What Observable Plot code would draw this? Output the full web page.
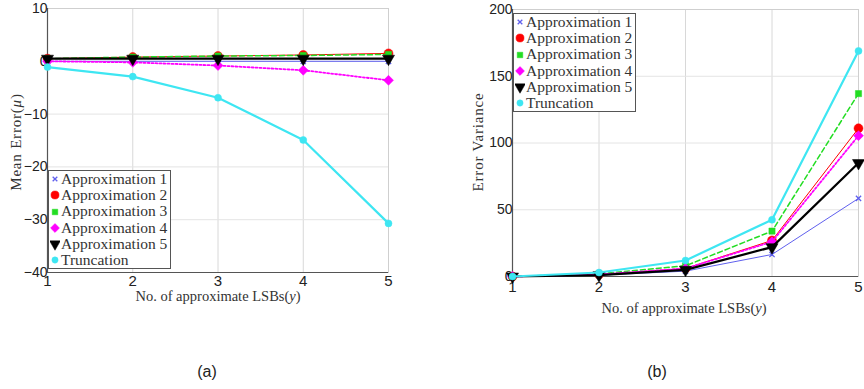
<!DOCTYPE html>
<html><head><meta charset="utf-8">
<script src="https://cdn.jsdelivr.net/npm/d3@7"></script>
<script src="https://cdn.jsdelivr.net/npm/@observablehq/plot@0.6"></script>
<style>
body{margin:0;background:#fff;width:864px;height:389px;position:relative;overflow:hidden;}
.panel{position:absolute;top:0;}
.ytitle{position:absolute;font-family:"Liberation Serif",serif;font-size:15px;color:#333;transform:translate(-50%,-50%) rotate(-90deg);white-space:nowrap;letter-spacing:0.8px}
.xtitle{position:absolute;font-family:"Liberation Serif",serif;font-size:14.5px;color:#333;transform:translate(-50%,-50%);white-space:nowrap}
.cap{position:absolute;font-family:"Liberation Sans",Arial,sans-serif;font-size:16px;color:#222;transform:translate(-50%,-50%)}
.legend{position:absolute;border:1.5px solid #555;background:#fff;font-family:"Liberation Serif",serif;font-size:15.5px;color:#333;line-height:16.2px;padding:0 3px 0 1px}
.legend div{display:flex;align-items:center;white-space:nowrap}
.legend svg{margin-right:1px}
</style></head><body>
<div id="a" class="panel" style="left:0"></div>
<div id="b" class="panel" style="left:430px"></div>
<div class="ytitle" style="left:16px;top:142px">Mean Error(<i>μ</i>)</div>
<div class="ytitle" style="left:478px;top:142px">Error Variance</div>
<div class="xtitle" style="left:218px;top:296px">No. of approximate LSBs(<i>y</i>)</div>
<div class="xtitle" style="left:684px;top:308px">No. of approximate LSBs(<i>y</i>)</div>
<div class="cap" style="left:207px;top:372px">(a)</div>
<div class="cap" style="left:657px;top:372px">(b)</div>
<div id="legA" class="legend" style="left:48px;top:170px"></div>
<div id="legB" class="legend" style="left:513px;top:13px"></div>
<script>
const lsbs = [1, 2, 3, 4, 5];
const seriesNames = ["Approximation 1","Approximation 2","Approximation 3","Approximation 4","Approximation 5","Truncation"];
const seriesColors = ["#6060ee","#ff0000","#22dd22","#ff00ff","#000000","#3ee6f2"];
const seriesSymbols = ["times","circle","square","diamond2","triangle","circle"];
const seriesRotate = [0,0,0,0,180,0];
const seriesDash = [null,null,"5,3","2,2",null,null];
const seriesWidth = [1,1,1.5,1.8,2.2,2.2];
const seriesR = [2.5,4.5,3.5,4.5,4.5,3.5];

// (a) Mean error
const meanA1 = [0, 0, 0, 0, 0];
const meanA2 = [0.5, 0.8, 1.0, 1.2, 1.5];
const meanA3 = [0.5, 0.8, 1.0, 1.1, 1.3];
const meanA4 = [0, -0.2, -0.8, -1.7, -3.6];
const meanA5 = [0.5, 0.5, 0.5, 0.5, 0.5];
const meanTrunc = [-1.1, -2.9, -6.9, -14.9, -30.7];
const meanTicks = [-40, -30, -20, -10, 0, 10];

// (b) Error variance
const varA1 = [0, 1, 4, 16.5, 58.5];
const varA2 = [0, 1.5, 6, 27, 111];
const varA3 = [0, 2, 8, 34, 137];
const varA4 = [0, 1.5, 6, 26, 105.5];
const varA5 = [0, 1, 5, 22, 85];
const varTrunc = [0, 3, 12, 42.5, 169];
const varTicks = [0, 50, 100, 150, 200];

function rows(list) {
  const out = [];
  list.forEach((vals, i) => vals.forEach((v, j) => out.push({x: lsbs[j], y: v, s: i})));
  return out;
}

function panel(list, domain, ticks, opts) {
  const data = rows(list);
  const marks = [
    Plot.gridX(lsbs, {stroke: "#d8d8d8", strokeOpacity: 1}),
    Plot.gridY(ticks, {stroke: "#e4e4e4", strokeOpacity: 1}),
    Plot.frame({stroke: "#cfcfcf"}),
    Plot.ruleX([1], {stroke: "#555", strokeWidth: 1.2}),
    Plot.ruleY([domain[0]], {stroke: "#555", strokeWidth: 1.2}),
    Plot.axisX(lsbs, {tickSize: 0, tickPadding: opts.xpad, fontSize: 15, fill: "#222", fontFamily: "Liberation Sans, Arial, sans-serif", label: null, tickFormat: d => String(d)}),
    Plot.axisY(ticks, {tickSize: 0, tickPadding: 0, fontSize: 14, fill: "#222", fontFamily: "Liberation Sans, Arial, sans-serif", label: null})
  ];
  list.forEach((vals, i) => {
    const d = data.filter(r => r.s === i);
    marks.push(Plot.line(d, {x: "x", y: "y", stroke: seriesColors[i], strokeWidth: seriesWidth[i], strokeDasharray: seriesDash[i]}));
    const sym = seriesSymbols[i];
    marks.push(Plot.dot(d, {x: "x", y: "y", symbol: () => sym, r: seriesR[i], rotate: seriesRotate[i],
      fill: sym === "times" ? "none" : seriesColors[i], stroke: seriesColors[i], strokeWidth: sym === "times" ? 1.3 : 0.5}));
  });
  return Plot.plot({
    width: opts.width, height: 300,
    marginLeft: opts.ml, marginRight: opts.mr, marginTop: opts.mt, marginBottom: 300 - opts.bottom,
    x: {domain: [1, 5]},
    y: {domain},
    symbol: {type: "identity"},
    style: {background: "transparent", overflow: "visible"},
    marks
  });
}

document.getElementById("a").append(panel([meanA1, meanA2, meanA3, meanA4, meanA5, meanTrunc], [-40, 10], meanTicks, {width: 430, ml: 47, mr: 42, mt: 8, bottom: 272, xpad: 3}));
document.getElementById("b").append(panel([varA1, varA2, varA3, varA4, varA5, varTrunc], [0, 200], varTicks, {width: 434, ml: 82, mr: 6, mt: 9, bottom: 276, xpad: 5}));

function legend(id) {
  const el = document.getElementById(id);
  seriesNames.forEach((name, i) => {
    const row = document.createElement("div");
    const sym = d3.symbol(({times: d3.symbolTimes, circle: d3.symbolCircle, square: d3.symbolSquare, diamond2: d3.symbolDiamond2, triangle: d3.symbolTriangle})[seriesSymbols[i]], Math.PI * seriesR[i] * seriesR[i] * 0.8)();
    const filled = seriesSymbols[i] !== "times";
    row.innerHTML = `<svg width="10" height="14"><path d="${sym}" transform="translate(5,7) rotate(${seriesRotate[i]})" fill="${filled ? seriesColors[i] : "none"}" stroke="${seriesColors[i]}" stroke-width="${filled ? 0.5 : 1.3}"/></svg><span>${name}</span>`;
    el.append(row);
  });
}
legend("legA");
legend("legB");
</script>
</body></html>
